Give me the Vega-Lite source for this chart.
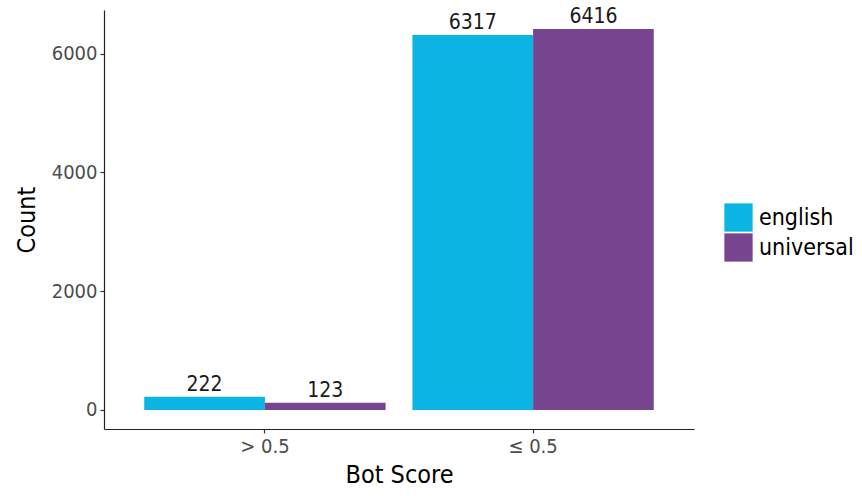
{
  "$schema": "https://vega.github.io/schema/vega-lite/v6.json",
  "width": 590,
  "height": 419,
  "autosize": "none",
  "padding": {"left": 104, "top": 10, "right": 168, "bottom": 67},
  "background": "white",
  "data": {
    "values": [
      {"score": "> 0.5", "model": "english", "count": 222},
      {"score": "> 0.5", "model": "universal", "count": 123},
      {"score": "≤ 0.5", "model": "english", "count": 6317},
      {"score": "≤ 0.5", "model": "universal", "count": 6416}
    ]
  },
  "encoding": {
    "x": {
      "field": "score", "type": "nominal", "sort": ["> 0.5", "≤ 0.5"],
      "scale": {"paddingInner": 0.1, "paddingOuter": 0.15},
      "axis": {"title": "Bot Score", "labelAngle": 0, "titlePadding": 6}
    },
    "xOffset": {"field": "model", "type": "nominal", "scale": {"paddingInner": 0, "paddingOuter": 0}},
    "y": {
      "field": "count", "type": "quantitative",
      "scale": {"domain": [-320.8, 6736.8], "nice": false, "zero": false},
      "axis": {"title": "Count", "values": [0, 2000, 4000, 6000], "format": "d", "titlePadding": 12}
    }
  },
  "layer": [
    {
      "mark": {"type": "bar", "stroke": null},
      "encoding": {
        "y2": {"datum": 0},
        "color": {
          "field": "model", "type": "nominal",
          "scale": {"domain": ["english", "universal"], "range": ["#0bb4e2", "#77458f"]},
          "legend": {
            "title": null, "orient": "none", "legendX": 620, "legendY": 193,
            "symbolType": "square", "symbolSize": 800, "symbolStrokeWidth": 0,
            "symbolOpacity": 1, "rowPadding": 1, "labelOffset": 6,
            "labelFontSize": 23, "labelColor": "#000000", "labelFont": "DejaVu Sans Condensed"
          }
        }
      }
    },
    {
      "mark": {"type": "text", "baseline": "bottom", "dy": -2, "fontSize": 21, "color": "#1a1a1a", "font": "DejaVu Sans Condensed"},
      "encoding": {"text": {"field": "count", "type": "quantitative", "format": "d"}}
    }
  ],
  "config": {
    "view": {"stroke": null},
    "font": "DejaVu Sans Condensed",
    "axis": {
      "grid": false,
      "domainColor": "#222222",
      "domainWidth": 1.2,
      "tickColor": "#333333",
      "tickSize": 4,
      "tickWidth": 1.2,
      "labelColor": "#4d4d4d",
      "labelFontSize": 20,
      "labelPadding": 3,
      "labelFont": "DejaVu Sans Condensed",
      "titleFont": "DejaVu Sans Condensed",
      "titleFontSize": 25,
      "titleFontWeight": "normal",
      "titleColor": "#000000"
    }
  }
}
